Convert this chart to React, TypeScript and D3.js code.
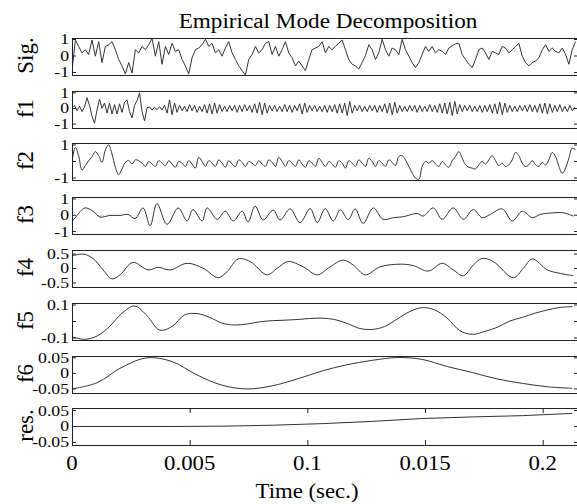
import React from 'react';
import * as d3 from 'd3';

const W = 577;
const H = 504;
const FONT = '"Liberation Serif", "Times New Roman", Times, serif';

// time axis, in milliseconds
const T_END = 21.5;
const xTicks = [0, 5, 10, 15, 20];
const xTickLabels = ['0', '0.005', '0.1', '0.015', '0.2'];

// sample spacing (ms) of the evenly sampled traces
const STEP_SIG = 0.1417;
const STEP_F1 = 0.1063;
const STEP_F2 = 0.1417;
const STEP_F5 = 0.5315;
const STEP_F6 = 1.063;
const STEP_RES = 2.126;

const sigValues = [
  -0.89, 0.97, 0.58, 0.19, 0.38, 0.09, 0.97, -0.01, 0.87, -0.4,
  0.58, 0.68, 0.87, 0.38, -0.21, -0.6, -1.09, -0.4, -1.03, 0.38,
  0.19, 0.58, 0.38, 0.68, 1.07, -0.01, 0.87, -0.5, 0.58, 0.09,
  0.77, 0.28, 0.38, -0.21, -0.6, -1.09, -0.11, 0.38, 0.48, 0.68,
  1.01, 0.58, 0.77, 0.19, 0.38, -0.01, 0.48, 0.87, 0.19, -0.21,
  -0.6, -0.89, -1.15, -0.21, 0.09, 0.58, 0.19, 0.38, 0.77, 0.87,
  0.09, 0.58, -0.01, 0.38, 0.87, 0.19, -0.11, -0.6, -0.3,
  -0.6, -0.89, -0.21, 0.38, 0.48, 0.58, 0.87, 0.19, 0.58, 0.38,
  0.58, 0.77, 0.97, 0.38, -0.21, -0.5, -0.6, -0.79, -0.4, 0.03,
  0.68, 0.38, -0.21, 0.19, 1.01, 0.38, -0.01, 0.48, 0.38, 0.09,
  1.01, 0.38, -0.01, -0.4, -0.7, -0.4, 0.09, 0.58, 0.28, 0.58,
  0.19, 0.38, 0.28, 0.09, 0.48, 0.62, 0.74, 0.77, 0.09, -0.21,
  -0.5, -0.7, -0.21, 0.38, 0.48, 0.19, -0.21, 0.28, 0.19, 0.09,
  0.58, 0.48, 0.19, 0.38, 0.58, 0.77, -0.01, -0.4, -0.6, -0.4,
  -0.3, -0.11, 0.38, 0.68, 0.28, 0.48, 0.28, 0.19, 0.48, 0.09,
  -0.5, 0.38, 0.87,
];

const f1Values = [
  0.05, 0.2, -0.15, 0.15, -0.2, 0.1,
  0.69, 0.2, -0.5, -0.94, -0.1, 0.6, 0.0, 0.35,
  -0.3, 0.35, -0.35, 0.25, -0.35, 0.3, -0.25, 0.4,
  0.55, -0.2, -0.6, 0.2, 0.5, 1.0, -0.2, -0.8,
  0.05, 0.1, -0.1, 0.08, -0.08, 0.12, -0.1, 0.2,
  -0.3, 0.55, -0.4, 0.35, -0.25, 0.2, -0.15, 0.15,
  -0.2, 0.25, -0.15, 0.2, -0.25, 0.15, -0.2, 0.25, -0.3, 0.3,
  -0.35, 0.35, -0.3, 0.25, -0.2, 0.15, -0.2, 0.2, -0.15, 0.2,
  -0.25, 0.2, -0.2, 0.25, -0.15, 0.2, -0.25, 0.3, -0.3, 0.4,
  -0.4, 0.35, -0.3, 0.2, -0.15, 0.2, -0.2, 0.15, -0.2, 0.25,
  -0.2, 0.2, -0.25, 0.2, -0.15, 0.3, -0.35, 0.35, -0.25, 0.2,
  -0.15, 0.2, -0.2, 0.15, -0.2, 0.2, -0.25, 0.2, -0.2, 0.25,
  -0.3, 0.3, -0.3, 0.35, -0.45, 0.45, -0.3, 0.2, -0.15, 0.2,
  -0.2, 0.15, -0.2, 0.2, -0.15, 0.2, -0.25, 0.2, -0.2, 0.3,
  -0.3, 0.35, -0.4, 0.4, -0.3, 0.2, -0.2, 0.15, -0.2, 0.2,
  -0.15, 0.2, -0.25, 0.2, -0.2, 0.15, -0.2, 0.25, -0.2, 0.2,
  -0.25, 0.3, -0.3, 0.35, -0.35, 0.4, -0.45, 0.45, -0.35, 0.25,
  -0.2, 0.2, -0.15, 0.2, -0.2, 0.15, -0.2, 0.2, -0.25, 0.2,
  -0.2, 0.25, -0.3, 0.3, -0.35, 0.4, -0.4, 0.35, -0.25, 0.2,
  -0.2, 0.15, -0.2, 0.2, -0.15, 0.2, -0.2, 0.25, -0.2, 0.2,
  -0.25, 0.3, -0.3, 0.35, -0.35, 0.3, -0.25, 0.2, -0.2, 0.25,
  -0.2, 0.15, -0.2, 0.2, -0.15, 0.1,
];

const f2Values = [
  0.0, 0.85, 0.35, -0.52, -0.25, 0.05, 0.3, 0.6, 0.35, -0.05,
  0.7, 1.0, 0.45, -0.35, -0.8, -0.45, -0.05, 0.05, -0.15, 0.1,
  0.05, -0.1, -0.3, 0.0, -0.15, -0.3, 0.05, -0.1, -0.25,
  0.05, -0.15, -0.35, 0.0, -0.1, -0.3, 0.05, -0.15, -0.4,
  0.25, 0.0, -0.3, 0.05, -0.1, -0.3, 0.1, -0.1, -0.35,
  0.05, -0.15, -0.3, 0.1, -0.05, -0.3, 0.0, -0.1, -0.25,
  0.05, -0.15, -0.3, 0.1, -0.05, -0.3, 0.25, 0.0, -0.3,
  0.05, -0.1, -0.3, 0.1, -0.15, -0.35, 0.05, -0.1, -0.3,
  0.2, -0.05, -0.3, 0.0, -0.15, -0.35, 0.05, -0.1, -0.4,
  0.05, -0.1, -0.3, 0.1, -0.1, -0.3, 0.2, 0.0, -0.3,
  0.05, -0.1, -0.3, 0.1, -0.05, -0.25, 0.3,
  0.35, 0.1, -0.3, -0.7, -1.0, -1.08, -0.3, 0.0, -0.1,
  0.05, -0.15, -0.3, 0.0, -0.2, -0.35, 0.05, 0.3, 0.6, 0.2,
  -0.2, -0.35, -0.4, -0.45, -0.2, 0.0, -0.15, 0.1, 0.35, 0.05,
  -0.25, -0.1, -0.3, -0.2, 0.1, 0.55, 0.35, -0.1, -0.3, -0.2,
  0.05, -0.2, -0.3, -0.05, -0.2, 0.1, 0.55, 0.3, -0.3, -0.72,
  -0.4, 0.2, 0.81, 0.7,
];

// [time (ms), value]
const f3Points: [number, number][] = [
  [0, -0.39], [0.17, -0.09], [0.55, 0.45], [0.89, 0.25], [1.19, -0.11],
  [1.62, -0.01], [2.04, -0.01], [2.38, 0.05], [2.68, -0.21], [3.02, 0.45],
  [3.32, -0.65], [3.61, 0.72], [4.04, -0.56], [4.51, 0.45], [4.89, -0.35],
  [5.14, 0.35], [5.53, -0.35], [5.74, 0.45], [6.17, -0.25], [6.51, 0.25],
  [6.85, -0.35], [7.23, 0.25], [7.48, -0.41], [7.78, 0.56], [8.12, -0.29],
  [8.55, 0.32], [8.84, -0.29], [9.27, 0.39], [9.69, -0.45], [10.12, 0.41],
  [10.42, -0.45], [10.76, 0.41], [11.1, -0.35], [11.4, 0.33], [11.74, -0.27],
  [12.03, 0.39], [12.37, -0.5], [12.8, 0.45], [13.22, -0.25], [13.65, -0.15],
  [14.07, -0.09], [14.67, 0.11], [14.92, -0.05], [15.35, 0.45], [15.73, -0.25],
  [16.2, 0.45], [16.63, -0.25], [17.05, 0.35], [17.43, -0.15], [17.77, 0.05],
  [18.28, 0.39], [18.71, -0.35], [19.13, 0.25], [19.56, -0.15], [19.9, 0.05],
  [20.45, 0.15], [20.88, 0.15], [21.3, -0.05],
];

const f4Points: [number, number][] = [
  [0, 0.43], [0.47, 0.5], [0.89, 0.35], [1.32, -0.05], [1.7, -0.36],
  [2.04, -0.22], [2.59, 0.21], [3.23, -0.05], [3.66, 0.04], [4.17, -0.05],
  [4.89, 0.18], [5.57, 0.01], [6.21, -0.32], [6.59, -0.11], [7.06, 0.33],
  [7.57, 0.24], [8.29, -0.22], [8.72, 0.01], [9.18, 0.24], [9.82, 0.06],
  [10.42, -0.22], [10.97, 0.06], [11.52, 0.29], [11.95, 0.12], [12.46, -0.22],
  [13.1, 0.06], [13.95, 0.15], [14.5, 0.1], [15.14, -0.09], [15.73, 0.18],
  [16.2, -0.05], [16.63, -0.25], [17.05, 0.12], [17.43, 0.35], [17.9, 0.24],
  [18.75, -0.32], [19.18, 0.01], [19.56, 0.33], [20.2, -0.05], [20.75, -0.17],
  [21.3, -0.25],
];

const f5Values = [
  -0.092, -0.108, -0.088, -0.03, 0.05, 0.094, 0.035, -0.052, -0.03, 0.04,
  0.048, 0.025, -0.01, -0.021, -0.015, -0.002, 0.005, 0.008, 0.012, 0.018,
  0.02, 0.012, -0.012, -0.042, -0.048, -0.03, 0.015, 0.06, 0.084, 0.07,
  0.02, -0.055, -0.078, -0.06, -0.035, 0.003, 0.025, 0.05, 0.07, 0.085,
  0.09,
];

const f6Values = [
  -0.05, -0.03, 0.02, 0.05, 0.038, -0.005, -0.038, -0.05, -0.04, -0.018,
  0.008, 0.028, 0.042, 0.051, 0.045, 0.022, 0.003, -0.018, -0.032, -0.043,
  -0.048,
];

const resValues = [0, 0, 0, 0.001, 0.004, 0.009, 0.016, 0.025, 0.03, 0.034, 0.041];

const panelLabels = ['Sig.', 'f1', 'f2', 'f3', 'f4', 'f5', 'f6', 'res.'];
const yDomains: [number, number][] = [
  [-1.15, 1.09], [-1.25, 1.12], [-1.12, 1.12], [-1.15, 1.12],
  [-0.64, 0.64], [-0.112, 0.112], [-0.063, 0.056], [-0.058, 0.058],
];
const yTicks = [
  [-1, 0, 1], [-1, 0, 1], [-1, 0, 1], [-1, 0, 1],
  [-0.5, 0, 0.5], [-0.1, 0, 0.1], [-0.05, 0, 0.05], [-0.05, 0, 0.05],
];
const yTickLabels = [
  ['-1', '0', '1'], ['-1', '0', '1'], ['-1', '', '1'], ['-1', '0', '1'],
  ['-0.5', '0', '0.5'], ['-0.1', '', '0.1'], ['-0.05', '0', '0.05'], ['-0.05', '0', '0.05'],
];

const sampled = (values: number[], step: number): [number, number][] =>
  values.map((v, i) => [i * step, v]);

const series: [number, number][][] = [
  sampled(sigValues, STEP_SIG),
  sampled(f1Values, STEP_F1),
  sampled(f2Values, STEP_F2),
  f3Points,
  f4Points,
  sampled(f5Values, STEP_F5),
  sampled(f6Values, STEP_F6),
  sampled(resValues, STEP_RES),
];
const curves = [
  d3.curveLinear, d3.curveLinear, d3.curveCatmullRom, d3.curveCatmullRom,
  d3.curveCatmullRom, d3.curveCatmullRom, d3.curveCatmullRom, d3.curveLinear,
];

// layout
const LEFT = 72;
const RIGHT = 578;
const PANEL_TOPS = [38, 91, 143, 197, 250, 303, 356, 408];
const PANEL_H = 37;
const TICK = 4;

const x = d3.scaleLinear().domain([0, T_END]).range([LEFT, RIGHT]);

export default function App() {
  const last = PANEL_TOPS.length - 1;
  const bottom = PANEL_TOPS[last] + PANEL_H;
  return (
    <svg
      width={W}
      height={H}
      viewBox={`0 0 ${W} ${H}`}
      style={{ position: 'absolute', left: 0, top: 0, background: '#fff' }}
      fontFamily={FONT}
    >
      <rect width={W} height={H} fill="#fff" />
      <defs>
        {PANEL_TOPS.map((top, i) => (
          <clipPath id={`clip${i}`} key={i}>
            <rect x={LEFT} y={top} width={RIGHT - LEFT} height={PANEL_H} />
          </clipPath>
        ))}
      </defs>

      <text
        transform={`translate(328,28) scale(1.16,1)`}
        textAnchor="middle"
        fontSize={20}
        fill="#000"
      >
        Empirical Mode Decomposition
      </text>

      {PANEL_TOPS.map((top, i) => {
        const y = d3.scaleLinear().domain(yDomains[i]).range([top + PANEL_H, top]);
        const line = d3
          .line<[number, number]>()
          .x((d) => x(d[0]))
          .y((d) => y(d[1]))
          .curve(curves[i]);
        return (
          <g key={i}>
            <path
              d={line(series[i]) || ''}
              fill="none"
              stroke="#333"
              strokeWidth={1}
              clipPath={`url(#clip${i})`}
            />
            <rect
              x={LEFT + 0.5}
              y={top + 0.5}
              width={RIGHT - LEFT}
              height={PANEL_H}
              fill="none"
              stroke="#222"
              strokeWidth={1}
            />
            {yTicks[i].map((t, j) => (
              <g key={j}>
                <line x1={LEFT} x2={LEFT + TICK} y1={y(t)} y2={y(t)} stroke="#222" />
                <line x1={RIGHT - TICK} x2={RIGHT} y1={y(t)} y2={y(t)} stroke="#222" />
                {yTickLabels[i][j] && (
                  <text
                    transform={`translate(69,${y(t)}) scale(1.18,1)`}
                    textAnchor="end"
                    dy="0.33em"
                    fontSize={15}
                    fill="#000"
                  >
                    {yTickLabels[i][j]}
                  </text>
                )}
              </g>
            ))}
            <text
              transform={`translate(33,${top + PANEL_H / 2 - 1}) rotate(-90)`}
              textAnchor="middle"
              fontSize={23}
              fill="#000"
            >
              {panelLabels[i]}
            </text>
          </g>
        );
      })}

      {xTicks.map((t, i) => (
        <g key={i}>
          <line x1={x(t) + 0.5} x2={x(t) + 0.5} y1={PANEL_TOPS[last]} y2={PANEL_TOPS[last] + 5} stroke="#222" />
          <line x1={x(t) + 0.5} x2={x(t) + 0.5} y1={bottom - 5} y2={bottom} stroke="#222" />
          <text
            transform={`translate(${x(t)},470) scale(1.14,1)`}
            textAnchor="middle"
            fontSize={20}
            fill="#000"
          >
            {xTickLabels[i]}
          </text>
        </g>
      ))}

      <text
        transform={`translate(307,498) scale(1.14,1)`}
        textAnchor="middle"
        fontSize={20}
        fill="#000"
      >
        Time (sec.)
      </text>
    </svg>
  );
}
